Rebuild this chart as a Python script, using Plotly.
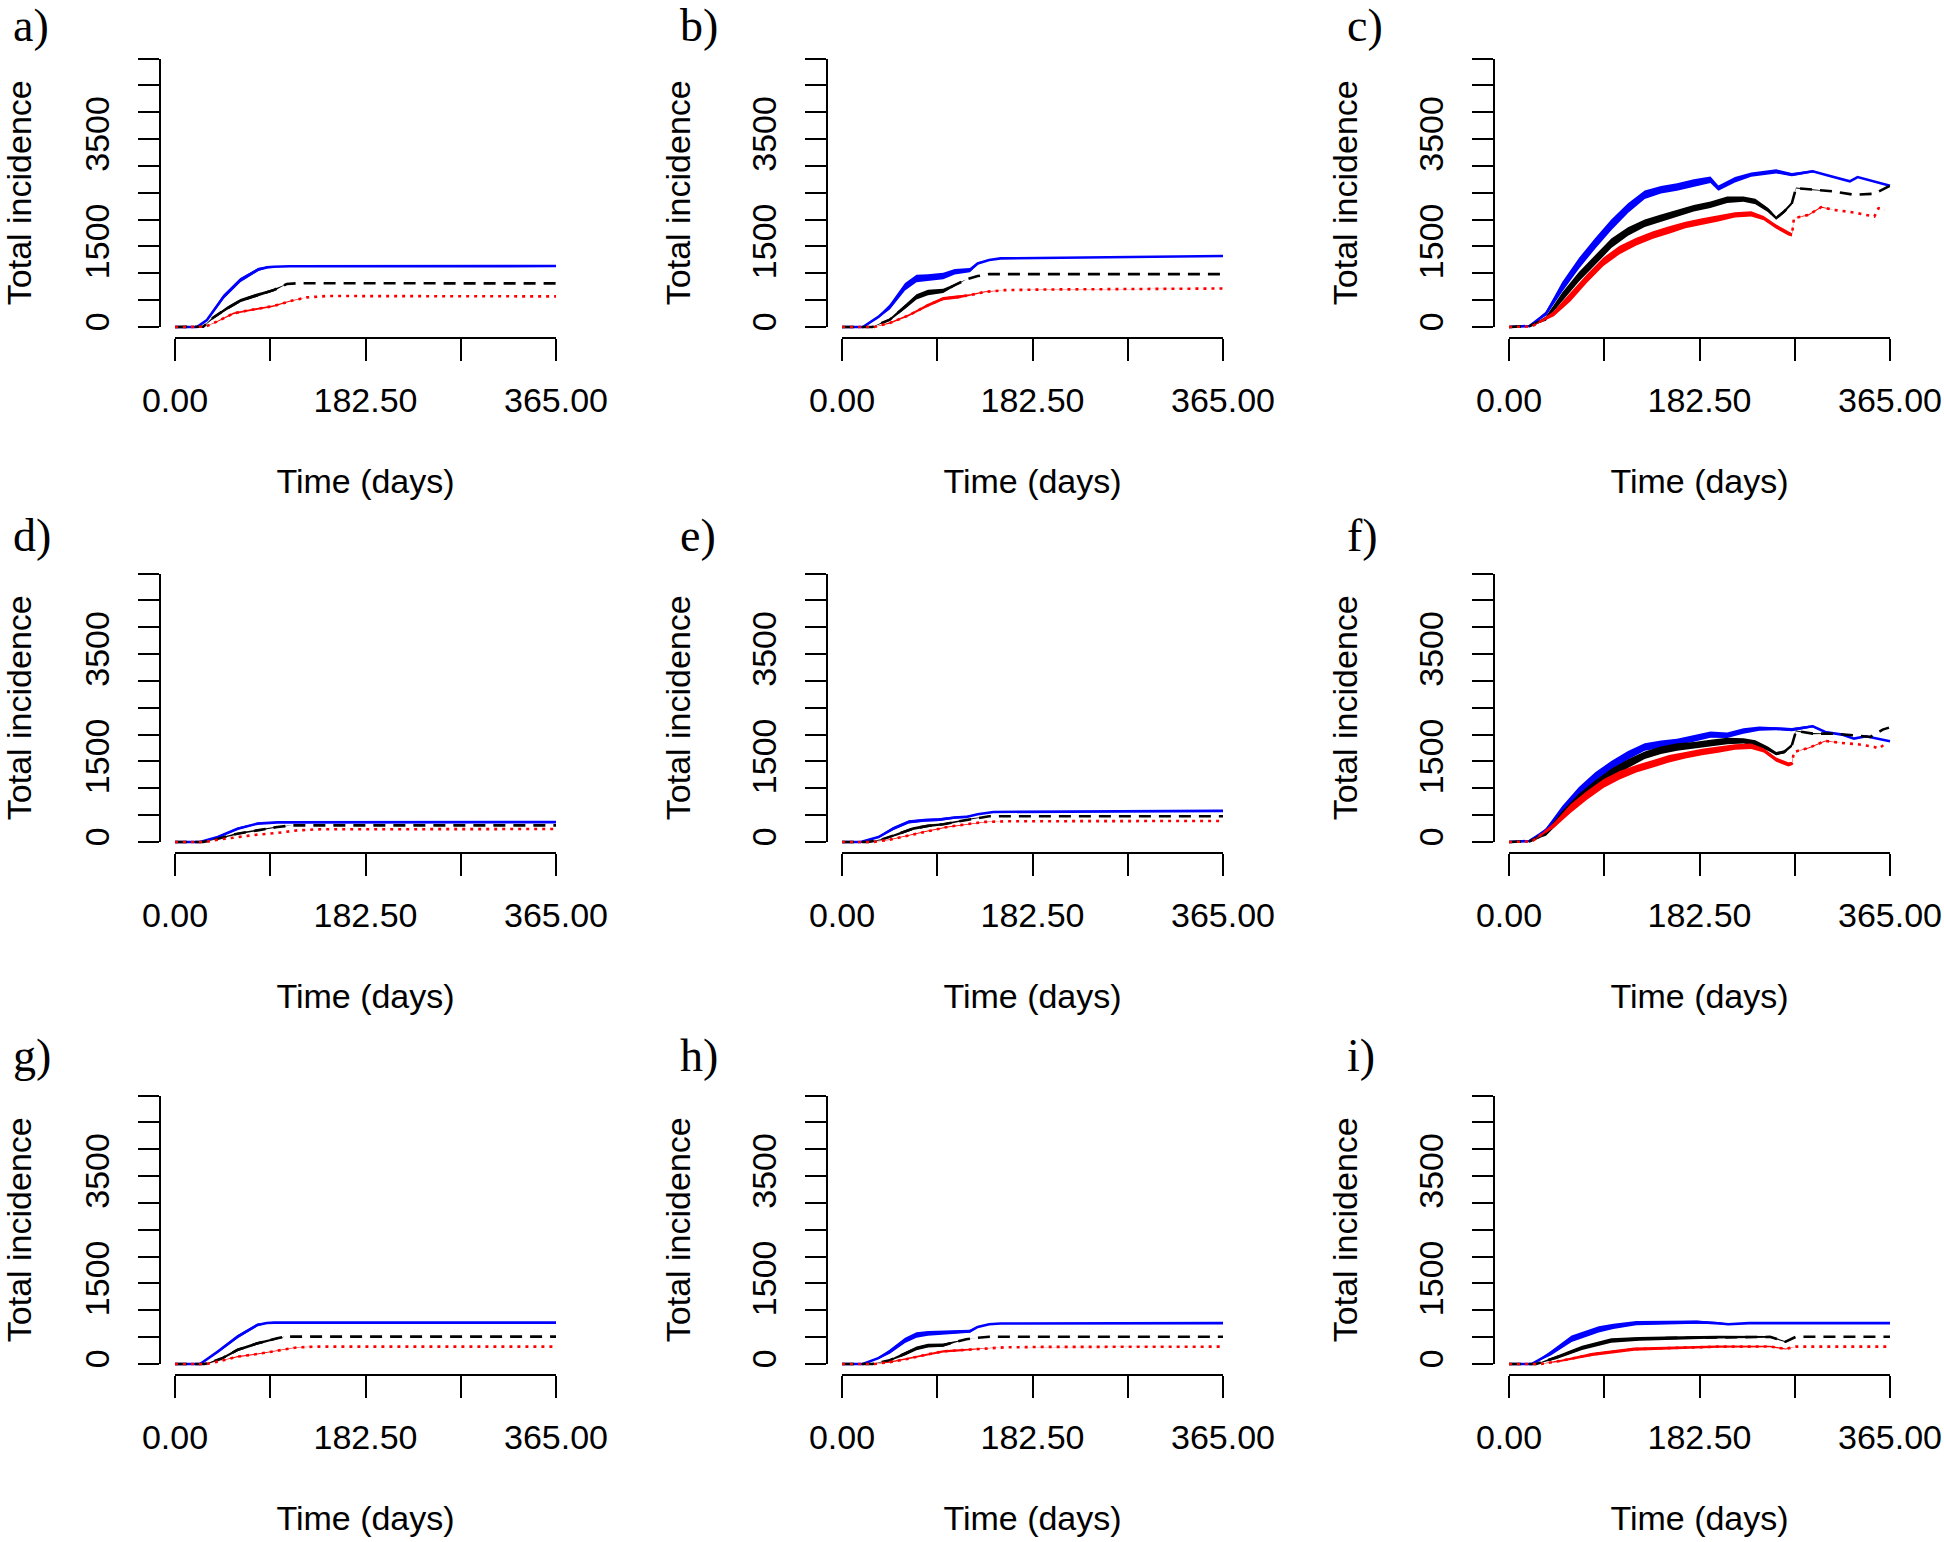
import plotly.graph_objects as go

# ------------------------------------------------------------------
# Data (x = day, y = total incidence,
# s = half-width of the stochastic noise band, in incidence units)
# ------------------------------------------------------------------
A_BLUE_X = [0, 21, 30.6, 46.6, 62.6, 80, 88, 94.6, 110, 365]
A_BLUE_Y = [0, 0, 130, 564, 874, 1073, 1110, 1122, 1130, 1135]
A_BLUE_S = [0, 0, 20, 40, 40, 30, 10, 0, 0, 0]
A_BLACK_X = [0, 27, 37, 49.8, 62.6, 78.5, 94.6, 107, 117, 365]
A_BLACK_Y = [0, 5, 180, 347, 490, 595, 688, 800, 815, 812]
A_BLACK_S = [0, 0, 20, 30, 30, 30, 20, 0, 0, 0]
A_RED_X = [0, 29, 40, 56, 72, 94.6, 110.6, 126.5, 145.6, 365]
A_RED_Y = [0, 5, 99, 254, 316, 390, 484, 552, 577, 570]
A_RED_S = [0, 0, 10, 15, 15, 15, 10, 0, 0, 0]

B_BLUE_X = [0, 20, 34.8, 45.8, 60.4, 71.4, 82.4, 97, 108, 122.6, 130, 141, 152, 365]
B_BLUE_Y = [0, 0, 187, 374, 748, 904, 923, 948, 1029, 1060, 1184, 1247, 1278, 1322]
B_BLUE_S = [0, 0, 20, 50, 70, 70, 60, 60, 50, 40, 20, 0, 0, 0]
B_BLACK_X = [0, 29, 45.8, 60.4, 71.4, 82.4, 97, 108, 119, 130, 141, 365]
B_BLACK_Y = [0, 0, 137, 374, 561, 642, 673, 779, 885, 948, 985, 985]
B_BLACK_S = [0, 0, 20, 40, 50, 50, 40, 20, 0, 0, 0, 0]
B_RED_X = [0, 31, 45.8, 64, 82.4, 97, 111.7, 122.6, 137, 155.6, 192, 365]
B_RED_Y = [0, 0, 75, 218, 405, 530, 561, 592, 655, 686, 698, 717]
B_RED_S = [0, 0, 15, 20, 30, 30, 30, 20, 10, 0, 0, 0]

C_BLUE_X = [0, 19.7, 35.4, 51, 67, 82.6, 98, 114, 130, 145.6, 161, 177, 193, 200.6,
            216.5, 232, 256, 271, 291, 303, 326.5, 334, 350, 365]
C_BLUE_Y = [0, 20, 250, 748, 1185, 1559, 1900, 2213, 2462, 2556, 2606, 2680, 2743, 2587,
            2743, 2836, 2899, 2836, 2899, 2836, 2712, 2793, 2712, 2631]
C_BLUE_S = [0, 0, 40, 90, 100, 100, 100, 90, 80, 70, 70, 70, 60, 50,
            50, 40, 40, 30, 20, 0, 0, 0, 0, 0]
C_BLACK_X = [0, 20, 35.4, 51, 67, 82.6, 98, 114, 130, 145.6, 161, 177, 193, 209, 224.6,
             236, 248, 256, 263.6, 271, 275, 291, 311, 330.5, 350, 365]
C_BLACK_Y = [0, 20, 156, 561, 935, 1247, 1559, 1777, 1933, 2026, 2120, 2213, 2275, 2369, 2381,
             2338, 2182, 2026, 2151, 2307, 2587, 2556, 2525, 2462, 2481, 2631]
C_BLACK_S = [0, 0, 40, 80, 90, 90, 90, 80, 70, 70, 70, 60, 60, 60, 50,
             50, 40, 30, 30, 30, 10, 10, 0, 0, 0, 0]
C_RED_X = [0, 22, 43, 59, 74.7, 90.5, 106, 122, 138, 153.4, 169, 185, 200.6, 216.5,
           232, 244, 256, 267.6, 271, 273, 287, 299, 311, 330.5, 350, 354, 360]
C_RED_Y = [0, 10, 250, 561, 904, 1216, 1434, 1590, 1714, 1808, 1901, 1964, 2026, 2088,
           2107, 2026, 1870, 1746, 1714, 2026, 2088, 2232, 2182, 2132, 2057, 2213, 2182]
C_RED_S = [0, 0, 50, 80, 80, 80, 80, 70, 70, 70, 60, 60, 60, 50,
           50, 40, 40, 40, 30, 0, 10, 10, 0, 0, 0, 0, 0]

D_BLUE_X = [0, 24, 41, 60, 79, 90, 98, 365]
D_BLUE_Y = [0, 0, 93, 248, 342, 360, 366, 370]
D_BLUE_S = [0, 0, 15, 20, 15, 5, 0, 0]
D_BLACK_X = [0, 27, 41, 60, 79, 98, 113, 365]
D_BLACK_Y = [0, 0, 62, 155, 217, 280, 310, 310]
D_BLACK_S = [0, 0, 10, 15, 15, 10, 0, 0]
D_RED_X = [0, 29, 41, 60, 79, 98, 117, 136, 365]
D_RED_Y = [0, 0, 43, 93, 137, 168, 217, 236, 242]
D_RED_S = [0, 0, 0, 0, 0, 0, 0, 0, 0]

E_BLUE_X = [0, 18, 35, 49, 64, 79, 93, 108, 119, 130, 145, 365]
E_BLUE_Y = [0, 0, 93, 249, 374, 405, 417, 455, 467, 517, 560, 579]
E_BLUE_S = [0, 0, 15, 30, 30, 30, 25, 20, 15, 10, 0, 0]
E_BLACK_X = [0, 25, 38, 53, 68, 82, 97, 112, 126, 141, 365]
E_BLACK_Y = [0, 0, 44, 143, 249, 299, 330, 386, 436, 479, 479]
E_BLACK_S = [0, 0, 10, 20, 25, 25, 20, 15, 10, 0, 0]
E_RED_X = [0, 30, 46, 64, 82, 101, 119, 137, 156, 365]
E_RED_Y = [0, 0, 44, 125, 205, 280, 330, 374, 386, 392]
E_RED_S = [0, 0, 5, 10, 10, 10, 10, 5, 0, 0]

F_BLUE_X = [0, 19.7, 35.4, 51, 67, 82.6, 98, 114, 130, 145.6, 161, 177, 193, 209,
            224.6, 240, 256, 271, 291, 303, 319, 330.5, 342, 365]
F_BLUE_Y = [0, 20, 217, 590, 932, 1211, 1428, 1615, 1770, 1820, 1863, 1925, 2000, 1987,
            2068, 2111, 2111, 2093, 2155, 2049, 2000, 1925, 1968, 1875]
F_BLUE_S = [0, 0, 40, 80, 90, 90, 80, 80, 70, 70, 60, 60, 60, 50,
            50, 40, 30, 30, 20, 0, 0, 0, 0, 0]
F_BLACK_X = [0, 20, 35.4, 51, 67, 82.6, 98, 114, 130, 145.6, 161, 177, 193, 209, 224.6,
             236, 248, 256, 263.6, 271, 275, 291, 311, 330.5, 346, 358, 364]
F_BLACK_Y = [0, 15, 155, 497, 807, 1056, 1273, 1459, 1615, 1708, 1770, 1801, 1844, 1882, 1882,
             1844, 1739, 1646, 1677, 1801, 2068, 2018, 2018, 1987, 1956, 2093, 2130]
F_BLACK_S = [0, 0, 40, 80, 90, 90, 90, 80, 70, 70, 70, 60, 60, 60, 50,
             50, 40, 30, 30, 30, 10, 10, 0, 0, 0, 0, 0]
F_RED_X = [0, 22, 43, 59, 74.7, 90.5, 106, 122, 138, 153.4, 169, 185, 200.6, 216.5,
           232, 244, 256, 267.6, 271, 273, 287, 303, 319, 334, 350, 354, 360]
F_RED_Y = [0, 10, 310, 621, 869, 1087, 1242, 1366, 1459, 1552, 1615, 1677, 1720, 1770,
           1782, 1708, 1534, 1447, 1459, 1677, 1751, 1882, 1844, 1820, 1770, 1739, 1820]
F_RED_S = [0, 0, 50, 80, 80, 80, 80, 70, 70, 70, 60, 60, 60, 50,
           50, 40, 40, 40, 30, 0, 10, 10, 0, 0, 0, 0, 0]

G_BLUE_X = [0, 24, 41, 60, 79, 88, 95, 365]
G_BLUE_Y = [0, 0, 230, 509, 727, 765, 770, 770]
G_BLUE_S = [0, 0, 20, 30, 25, 10, 0, 0]
G_BLACK_X = [0, 28, 33.6, 45, 60, 79, 98, 105, 365]
G_BLACK_Y = [0, 0, 25, 106, 264, 385, 478, 509, 509]
G_BLACK_S = [0, 0, 10, 20, 25, 25, 15, 0, 0]
G_RED_X = [0, 30, 37, 60, 79, 98, 117, 136, 365]
G_RED_Y = [0, 0, 25, 137, 186, 248, 310, 323, 323]
G_RED_S = [0, 0, 5, 10, 10, 10, 5, 0, 0]

H_BLUE_X = [0, 20, 34.8, 45.8, 60.4, 71.4, 82.4, 97, 108, 122.6, 130, 141, 152, 365]
H_BLUE_Y = [0, 0, 110, 230, 440, 540, 570, 580, 600, 610, 690, 740, 755, 762]
H_BLUE_S = [0, 0, 15, 40, 50, 50, 45, 40, 35, 30, 15, 0, 0, 0]
H_BLACK_X = [0, 29, 45.8, 60.4, 71.4, 82.4, 97, 108, 119, 130, 141, 365]
H_BLACK_Y = [0, 0, 70, 190, 290, 340, 350, 410, 460, 490, 507, 507]
H_BLACK_S = [0, 0, 15, 30, 35, 35, 30, 15, 0, 0, 0, 0]
H_RED_X = [0, 31, 45.8, 64, 82.4, 97, 111.7, 122.6, 137, 155.6, 192, 365]
H_RED_Y = [0, 0, 35, 100, 180, 235, 255, 270, 295, 310, 318, 323]
H_RED_S = [0, 0, 10, 15, 20, 20, 20, 15, 5, 0, 0, 0]

I_BLUE_X = [0, 22, 40, 60, 86, 100, 122, 150, 180, 200, 210, 230, 365]
I_BLUE_Y = [0, 0, 200, 470, 645, 700, 762, 770, 780, 760, 740, 762, 762]
I_BLUE_S = [0, 0, 40, 60, 60, 50, 40, 30, 30, 20, 15, 0, 0]
I_BLACK_X = [0, 26, 45, 70, 98, 125, 150, 200, 250, 265, 275, 365]
I_BLACK_Y = [0, 0, 120, 300, 438, 470, 484, 500, 505, 415, 507, 507]
I_BLACK_S = [0, 0, 30, 40, 40, 35, 30, 25, 15, 10, 0, 0]
I_RED_X = [0, 30, 50, 80, 120, 160, 200, 250, 265, 275, 365]
I_RED_Y = [0, 0, 60, 180, 277, 305, 323, 325, 280, 323, 323]
I_RED_S = [0, 0, 20, 30, 30, 25, 20, 15, 10, 0, 0]

PANEL_LABELS = ["a)", "b)", "c)", "d)", "e)", "f)", "g)", "h)", "i)"]
PANEL_SERIES = [
    [(A_BLUE_X, A_BLUE_Y, A_BLUE_S), (A_BLACK_X, A_BLACK_Y, A_BLACK_S), (A_RED_X, A_RED_Y, A_RED_S)],
    [(B_BLUE_X, B_BLUE_Y, B_BLUE_S), (B_BLACK_X, B_BLACK_Y, B_BLACK_S), (B_RED_X, B_RED_Y, B_RED_S)],
    [(C_BLUE_X, C_BLUE_Y, C_BLUE_S), (C_BLACK_X, C_BLACK_Y, C_BLACK_S), (C_RED_X, C_RED_Y, C_RED_S)],
    [(D_BLUE_X, D_BLUE_Y, D_BLUE_S), (D_BLACK_X, D_BLACK_Y, D_BLACK_S), (D_RED_X, D_RED_Y, D_RED_S)],
    [(E_BLUE_X, E_BLUE_Y, E_BLUE_S), (E_BLACK_X, E_BLACK_Y, E_BLACK_S), (E_RED_X, E_RED_Y, E_RED_S)],
    [(F_BLUE_X, F_BLUE_Y, F_BLUE_S), (F_BLACK_X, F_BLACK_Y, F_BLACK_S), (F_RED_X, F_RED_Y, F_RED_S)],
    [(G_BLUE_X, G_BLUE_Y, G_BLUE_S), (G_BLACK_X, G_BLACK_Y, G_BLACK_S), (G_RED_X, G_RED_Y, G_RED_S)],
    [(H_BLUE_X, H_BLUE_Y, H_BLUE_S), (H_BLACK_X, H_BLACK_Y, H_BLACK_S), (H_RED_X, H_RED_Y, H_RED_S)],
    [(I_BLUE_X, I_BLUE_Y, I_BLUE_S), (I_BLACK_X, I_BLACK_Y, I_BLACK_S), (I_RED_X, I_RED_Y, I_RED_S)],
]

X_TICKS = [0, 91.25, 182.5, 273.75, 365]
X_TICKTEXT = ["0.00", "", "182.50", "", "365.00"]
Y_TICKS = [0, 500, 1000, 1500, 2000, 2500, 3000, 3500, 4000, 4500, 5000]
Y_TICKTEXT = ["0", "", "", "1500", "", "", "", "3500", "", "", ""]
X_MAX = 365
Y_MAX = 5000

# ------------------------------------------------------------------
# Styling / geometry (pixels in a 1944 x 1542 page)
# ------------------------------------------------------------------
W, H = 1944, 1542
COL_X0 = [175, 842, 1509]
XSPAN = 381
ROW_Y0 = [327, 842, 1364]
YSPAN = 268.5
PADX = XSPAN * 0.04
PADY = YSPAN * 0.04
LABEL_BASE = [42, 552, 1072]
LABEL_FS = 46
STYLES = [("#0000FF", "solid"), ("#000000", "12px,8px"), ("#FF0000", "3px,5px")]
SANS = "Liberation Sans, Arial, Helvetica, sans-serif"
SERIF = "Liberation Serif, Times New Roman, serif"
FS = 34

fig = go.Figure()
layout = {}
annotations = []

for k in range(9):
    r, c = divmod(k, 3)
    x0p = COL_X0[c]
    x1p = x0p + XSPAN
    y0p = ROW_Y0[r]
    y1p = y0p - YSPAN
    L, R = x0p - PADX, x1p + PADX
    T, B = y1p - PADY, y0p + PADY

    dn = k + 1          # data axes
    vn = k + 10         # display axes
    xd, yd = f"x{dn}", f"y{dn}"
    xv, yv = f"x{vn}", f"y{vn}"

    pad_days = X_MAX * 0.04
    pad_inc = Y_MAX * 0.04
    layout[f"xaxis{dn}"] = dict(domain=[L / W, R / W], range=[-pad_days, X_MAX + pad_days],
                                visible=False, anchor=yd, fixedrange=True)
    layout[f"yaxis{dn}"] = dict(domain=[1 - B / H, 1 - T / H], range=[-pad_inc, Y_MAX + pad_inc],
                                visible=False, anchor=xd, fixedrange=True)

    layout[f"xaxis{vn}"] = dict(
        domain=[x0p / W, x1p / W], range=[0, X_MAX], anchor="free", position=1 - B / H,
        showline=True, linecolor="black", linewidth=2, mirror=False,
        ticks="outside", ticklen=22, tickwidth=2, tickcolor="black",
        tickmode="array", tickvals=X_TICKS, ticktext=X_TICKTEXT,
        tickfont=dict(family=SANS, size=FS, color="black"), ticklabelstandoff=10,
        showgrid=False, zeroline=False, fixedrange=True,
        title=dict(text="Time (days)", font=dict(family=SANS, size=FS, color="black"), standoff=51),
    )
    layout[f"yaxis{vn}"] = dict(
        domain=[1 - y0p / H, 1 - y1p / H], range=[0, Y_MAX], anchor="free", position=L / W,
        showline=True, linecolor="black", linewidth=2, mirror=False,
        ticks="outside", ticklen=21, tickwidth=2, tickcolor="black",
        tickmode="array", tickvals=Y_TICKS, ticktext=Y_TICKTEXT, tickangle=-90,
        tickfont=dict(family=SANS, size=FS, color="black"), ticklabelstandoff=15,
        showgrid=False, zeroline=False, fixedrange=True,
        title=dict(text="Total incidence", font=dict(family=SANS, size=FS, color="black"), standoff=43),
    )

    # invisible trace so the display axes are registered
    fig.add_trace(go.Scatter(x=[None], y=[None], xaxis=xv, yaxis=yv, mode="lines",
                             showlegend=False, hoverinfo="skip"))

    for (xs, ys, ss), (col, dash) in zip(PANEL_SERIES[k], STYLES):
        if max(ss) > 0:
            up = [y + s for y, s in zip(ys, ss)]
            lo = [y - s for y, s in zip(ys, ss)]
            fig.add_trace(go.Scatter(x=list(xs) + list(xs)[::-1], y=up + lo[::-1],
                                     fill="toself", fillcolor=col, line=dict(width=0),
                                     mode="lines", xaxis=xd, yaxis=yd,
                                     showlegend=False, hoverinfo="skip"))
        fig.add_trace(go.Scatter(x=xs, y=ys, mode="lines",
                                 line=dict(color=col, width=2.6, dash=dash),
                                 xaxis=xd, yaxis=yd, showlegend=False))

    annotations.append(dict(text=PANEL_LABELS[k], xref="paper", yref="paper",
                            x=(x0p - 163) / W,
                            y=1 - (LABEL_BASE[r] + 0.22 * LABEL_FS) / H,
                            xanchor="left", yanchor="bottom", showarrow=False, borderpad=0,
                            font=dict(family=SERIF, size=LABEL_FS, color="black")))

fig.update_layout(
    width=W, height=H, margin=dict(l=0, r=0, t=0, b=0),
    paper_bgcolor="white", plot_bgcolor="rgba(0,0,0,0)",
    template="none", showlegend=False, annotations=annotations,
    **layout,
)

fig.write_html("out.html", config={"displayModeBar": False},
               post_script="document.body.style.margin='0px';")
